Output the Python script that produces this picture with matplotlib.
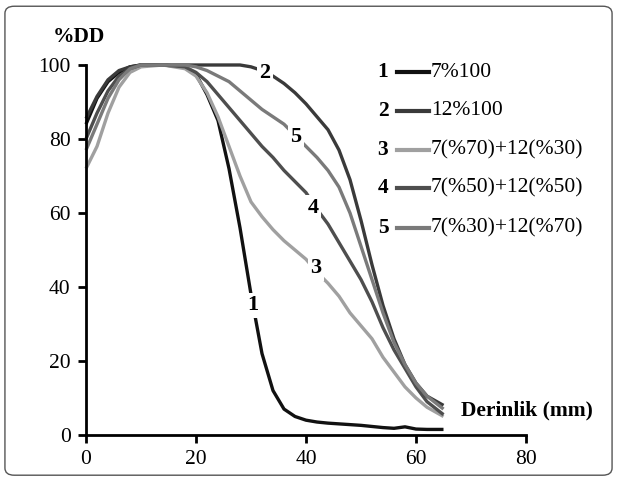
import numpy as np
import matplotlib
matplotlib.use("Agg")
import matplotlib.pyplot as plt
from matplotlib.patches import FancyBboxPatch

plt.rcParams['font.family'] = ['Liberation Serif', 'DejaVu Serif']

# derinlik (mm)
depth = [0, 2, 4, 6, 8, 10, 14, 18, 20, 22, 24, 26, 28, 30, 32, 34, 36, 38, 40,
         42, 44, 46, 48, 50, 52, 54, 56, 58, 60, 62, 65]

dd_1 = [84, 91, 95.5, 98, 99.5, 100, 100, 99.5, 97.5, 92, 85, 72, 56, 38, 22, 12, 7, 5, 4,
        3.5, 3.2, 3, 2.8, 2.6, 2.3, 2, 1.8, 2.2, 1.6, 1.5, 1.5]
dd_2 = [85.5, 91.5, 96, 98.5, 99.5, 100, 100, 100, 100, 100, 100, 100, 100, 99.5, 98.5, 97, 95, 92.5, 89.5,
        86, 82.5, 77, 69, 58, 46, 35, 26, 19, 14, 10.5, 8]
dd_3 = [72, 78, 87, 94, 98, 99.5, 100, 99, 97, 92.5, 86, 78, 70, 63, 59, 55.5, 52.5, 50, 47.5,
        44, 41, 37.5, 33, 29.5, 26, 21, 17, 13, 10, 7.5, 5]
dd_4 = [80, 87, 93, 97, 99, 100, 100, 99.5, 98, 95.5, 92, 88.5, 85, 81.5, 78, 75, 71.5, 68.5, 65.5,
        61, 57, 52, 47, 42, 36, 29, 23, 18, 13, 9, 5.5]
dd_5 = [77, 84, 91, 96, 99, 100, 100, 100, 99.5, 98.5, 97, 95.5, 93, 90.5, 88, 86, 84, 81, 78,
        75, 71.5, 67, 60, 51, 42, 33, 25, 19, 14, 10.5, 7]

series = [dd_1, dd_2, dd_3, dd_4, dd_5]
names = ["7%100", "12%100", "7(%70)+12(%30)", "7(%50)+12(%50)", "7(%30)+12(%70)"]
numbers = ["1", "2", "3", "4", "5"]
colors = ["#111111", "#3a3a3a", "#a0a0a0", "#4e4e4e", "#7a7a7a"]

fig = plt.figure(figsize=(6.17, 4.8), dpi=100)
ax = fig.add_axes([0.1394, 0.0938, 0.7131, 0.7708])

for vals, c in zip(series, colors):
    ax.plot(depth, vals, color=c, lw=2.4, clip_on=False, solid_capstyle='butt')

# etiketler
lab_pos = [(30.4, 35), (32.5, 97.8), (41.8, 45), (41.3, 61.4), (38.2, 80.5)]
for n, (x, y) in zip(numbers, lab_pos):
    ax.text(x, y, n, fontsize=16, fontweight='bold', ha='center', va='center',
            bbox=dict(boxstyle='square,pad=0.12', fc='white', ec='none'))

ax.set_xlim(0, 80)
ax.set_ylim(0, 100)
ax.set_xticks([0, 20, 40, 60, 80])
ax.set_yticks([0, 20, 40, 60, 80, 100])
for s in ['top', 'right']:
    ax.spines[s].set_visible(False)
for s in ['left', 'bottom']:
    ax.spines[s].set_linewidth(2)
ax.tick_params(direction='out', length=6, width=2, labelsize=15.5, pad=5)

ax.text(-0.075, 1.075, "%DD", transform=ax.transAxes, fontsize=15.5,
        fontweight='bold', ha='left', va='center')
ax.text(0.852, 0.065, "Derinlik (mm)", transform=ax.transAxes, fontsize=15.5,
        fontweight='bold', ha='left', va='center')

# legend
rows = [0.981, 0.876, 0.770, 0.668, 0.559]
for n, name, c, yy in zip(numbers, names, colors, rows):
    ax.text(0.675, yy, n, transform=ax.transAxes, fontsize=15.5, fontweight='bold',
            ha='center', va='center')
    ax.plot([0.706, 0.78], [yy, yy], transform=ax.transAxes, color=c, lw=3,
            clip_on=False)
    ax.text(0.784, yy, name, transform=ax.transAxes, fontsize=15.5,
            ha='left', va='center')

# cerceve
border = FancyBboxPatch((0.008, 0.01), 0.984, 0.977, boxstyle='round,pad=0,rounding_size=0.015',
                        transform=fig.transFigure, fc='none', ec='#555555', lw=1)
fig.patches.append(border)

fig.savefig("out.png", dpi=100)
